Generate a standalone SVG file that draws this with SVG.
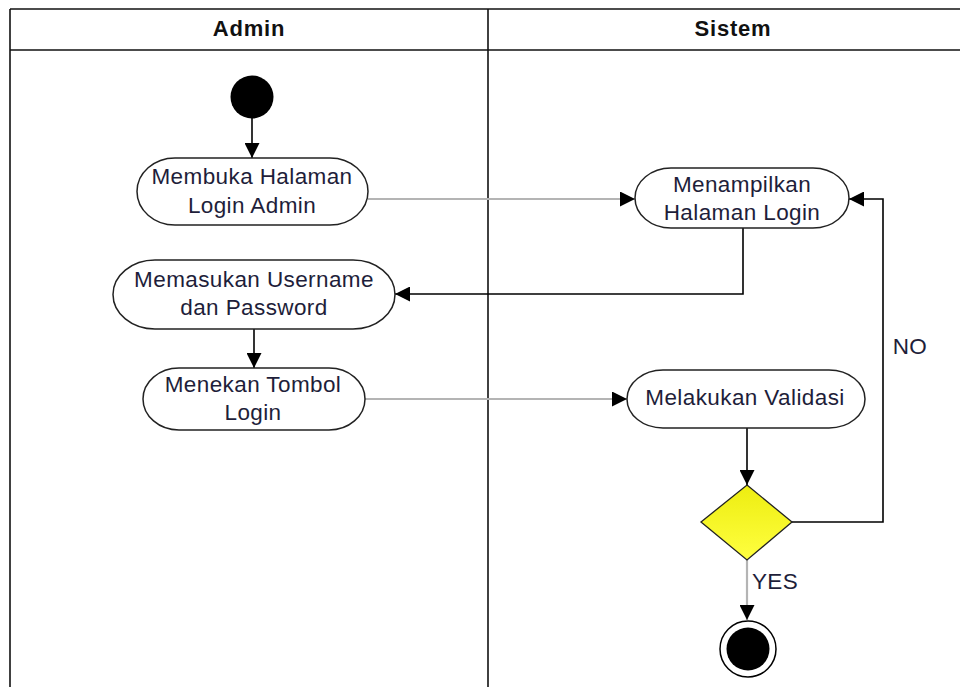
<svg xmlns="http://www.w3.org/2000/svg" width="960" height="687" viewBox="0 0 960 687">
<style>
.lane{stroke:#111;stroke-width:1.6;fill:none}
.hdr{font-family:"Liberation Sans",Arial,sans-serif;font-weight:bold;font-size:22px;letter-spacing:0.8px;fill:#111;text-anchor:middle}
.node{fill:#fff;stroke:#222;stroke-width:1.5}
.t{font-family:"Liberation Sans",Arial,sans-serif;font-size:22.5px;letter-spacing:0.4px;fill:#1e1e3a;text-anchor:middle}
.cb{stroke:#000;stroke-width:1.6;fill:none}
.cg{stroke:#b4b4b4;stroke-width:2.2;fill:none}
</style>
<defs>
<marker id="arr" viewBox="0 0 14 14" refX="14" refY="7" markerWidth="15" markerHeight="15" orient="auto" markerUnits="userSpaceOnUse">
<path d="M0,0 L14,7 L0,14 z" fill="#000"/>
</marker>
<linearGradient id="yg" x1="0" y1="0" x2="0" y2="1">
<stop offset="0" stop-color="#eded10"/>
<stop offset="1" stop-color="#ffff40"/>
</linearGradient>
</defs>
<rect width="960" height="687" fill="#fff"/>
<g id="lanes">
<line class="lane" x1="10" y1="9" x2="960" y2="9"/>
<line class="lane" x1="10" y1="50" x2="960" y2="50"/>
<line class="lane" x1="10" y1="9" x2="10" y2="687"/>
<line class="lane" x1="488" y1="9" x2="488" y2="687"/>
<text class="hdr" x="249" y="36">Admin</text>
<text class="hdr" x="733" y="36">Sistem</text>
</g>
<g id="connectors">
<line class="cb" x1="252" y1="118" x2="252" y2="158" marker-end="url(#arr)"/>
<line class="cg" x1="368" y1="199" x2="635" y2="199" marker-end="url(#arr)"/>
<polyline class="cb" points="743,228 743,294 395,294" marker-end="url(#arr)"/>
<line class="cb" x1="254" y1="329" x2="254" y2="368" marker-end="url(#arr)"/>
<line class="cg" x1="365" y1="399" x2="627" y2="399" marker-end="url(#arr)"/>
<line class="cb" x1="747" y1="428" x2="747" y2="485" marker-end="url(#arr)"/>
<polyline class="cb" points="792,522 883,522 883,199 849,199" marker-end="url(#arr)"/>
<line class="cg" x1="747" y1="560" x2="747" y2="620" marker-end="url(#arr)"/>
<text class="t" x="910" y="354">NO</text>
<text class="t" x="775" y="589">YES</text>
</g>
<g id="start">
<circle cx="252" cy="97" r="21.5" fill="#000"/>
</g>
<g id="n1">
<rect class="node" x="137" y="158" width="231" height="67" rx="38" ry="33.5"/>
<text class="t" x="252" y="184">Membuka Halaman</text>
<text class="t" x="252" y="213">Login Admin</text>
</g>
<g id="n2">
<rect class="node" x="635" y="168" width="214" height="60" rx="36" ry="30"/>
<text class="t" x="742" y="192">Menampilkan</text>
<text class="t" x="742" y="220">Halaman Login</text>
</g>
<g id="n3">
<rect class="node" x="113" y="260" width="282" height="69" rx="42" ry="34.5"/>
<text class="t" x="254" y="287">Memasukan Username</text>
<text class="t" x="254" y="315">dan Password</text>
</g>
<g id="n4">
<rect class="node" x="143" y="368" width="222" height="62" rx="36" ry="31"/>
<text class="t" x="253" y="392">Menekan Tombol</text>
<text class="t" x="253" y="420">Login</text>
</g>
<g id="n5">
<rect class="node" x="627" y="370" width="238" height="58" rx="36" ry="29"/>
<text class="t" x="745" y="405">Melakukan Validasi</text>
</g>
<g id="decision">
<polygon points="747,485 792,522 747,560 701,522" fill="url(#yg)" stroke="#222" stroke-width="1.3"/>
</g>
<g id="end">
<circle cx="748" cy="649" r="28" fill="#fff" stroke="#000" stroke-width="1.5"/>
<circle cx="748" cy="649" r="21.5" fill="#000"/>
</g>
</svg>
